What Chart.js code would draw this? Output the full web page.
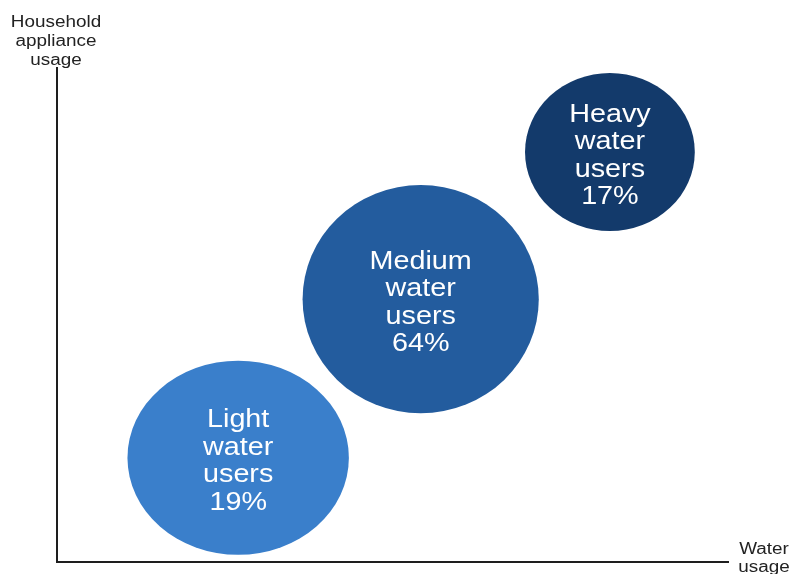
<!DOCTYPE html>
<html>
<head>
<meta charset="utf-8">
<title>Water user segments</title>
<script src="https://cdn.jsdelivr.net/npm/chart.js@4/dist/chart.umd.min.js"></script>
<style>
    html, body { margin: 0; padding: 0; background: #fff; }
    #segments { display: block; }
</style>
</head>
<body>
<canvas id="segments" width="794" height="574"></canvas>
<script>
// Segments, placed on a 0-100 scale of water usage (x) and appliance usage (y)
const SEGMENTS = ['Light', 'Medium', 'Heavy'];
const SHARES = [19, 64, 17];
const WATER_USAGE = [27.0, 54.2, 82.4];
const APPLIANCE_USAGE = [21.1, 53.2, 83.0];
// bubble extent in axis units
const BUBBLE_WIDTH = [33.0, 35.2, 25.3];
const BUBBLE_HEIGHT = [39.3, 46.2, 32.0];

const BUBBLE_COLORS = ['#3a7fcb', '#235c9e', '#133a6b'];
const FONT = '"Liberation Sans", Arial, sans-serif';

const labelLines = (i) => [SEGMENTS[i], 'water', 'users', `${SHARES[i]}%`];

const drawStretched = (ctx, text, x, y, sx) => {
    ctx.save();
    ctx.translate(x, y);
    ctx.scale(sx, 1);
    ctx.fillText(text, 0, 0);
    ctx.restore();
};

const ellipseBubbles = {
    id: 'ellipseBubbles',
    beforeDatasetsDraw(chart) {
        const { ctx, scales: { x, y } } = chart;
        ctx.save();
        SEGMENTS.forEach((_, i) => {
            const cx = x.getPixelForValue(WATER_USAGE[i]);
            const cy = y.getPixelForValue(APPLIANCE_USAGE[i]);
            const rx = Math.abs(x.getPixelForValue(WATER_USAGE[i] + BUBBLE_WIDTH[i] / 2) - cx);
            const ry = Math.abs(y.getPixelForValue(APPLIANCE_USAGE[i] + BUBBLE_HEIGHT[i] / 2) - cy);
            ctx.beginPath();
            ctx.ellipse(cx, cy, rx, ry, 0, 0, Math.PI * 2);
            ctx.fillStyle = BUBBLE_COLORS[i];
            ctx.fill();
        });
        ctx.restore();
    },
    afterDatasetsDraw(chart) {
        const { ctx } = chart;
        const meta = chart.getDatasetMeta(0);
        ctx.save();
        ctx.fillStyle = '#ffffff';
        ctx.font = `25px ${FONT}`;
        ctx.textAlign = 'center';
        ctx.textBaseline = 'middle';
        meta.data.forEach((pt, i) => {
            const lines = labelLines(i);
            const lh = 27.5;
            // text block sits a little below the bubble centre
            const top = pt.y + 4 - lh * (lines.length - 1) / 2;
            lines.forEach((line, j) => drawStretched(ctx, line, pt.x, top + j * lh, 1.15));
        });
        ctx.restore();
    },
    afterDraw(chart) {
        const { ctx } = chart;
        ctx.save();
        ctx.fillStyle = '#222222';
        ctx.font = `16px ${FONT}`;
        ctx.textAlign = 'center';
        ctx.textBaseline = 'middle';
        ['Household', 'appliance', 'usage'].forEach((t, j) => drawStretched(ctx, t, 56, 23 + j * 19, 1.18));
        ['Water', 'usage'].forEach((t, j) => drawStretched(ctx, t, 764, 550 + j * 18, 1.18));
        ctx.restore();
    },
};

const axisOptions = (min, max) => ({
    min,
    max,
    ticks: { display: false },
    grid: { display: true, drawOnChartArea: false, drawTicks: false, tickLength: 0 },
    border: { display: true, color: '#1e1e1e', width: 2 },
});

new Chart(document.getElementById('segments'), {
    type: 'scatter',
    data: {
        datasets: [{
            label: 'Water users',
            data: SEGMENTS.map((_, i) => ({ x: WATER_USAGE[i], y: APPLIANCE_USAGE[i] })),
            pointRadius: 0,
            pointHoverRadius: 0,
            backgroundColor: BUBBLE_COLORS,
        }],
    },
    options: {
        responsive: false,
        devicePixelRatio: 1,
        animation: false,
        layout: { padding: { left: 57, right: 66, top: 68, bottom: 12 } },
        plugins: {
            legend: { display: false },
            tooltip: { enabled: false },
        },
        scales: {
            x: axisOptions(0, 100),
            y: axisOptions(0, 100),
        },
    },
    plugins: [ellipseBubbles],
});
</script>
</body>
</html>
